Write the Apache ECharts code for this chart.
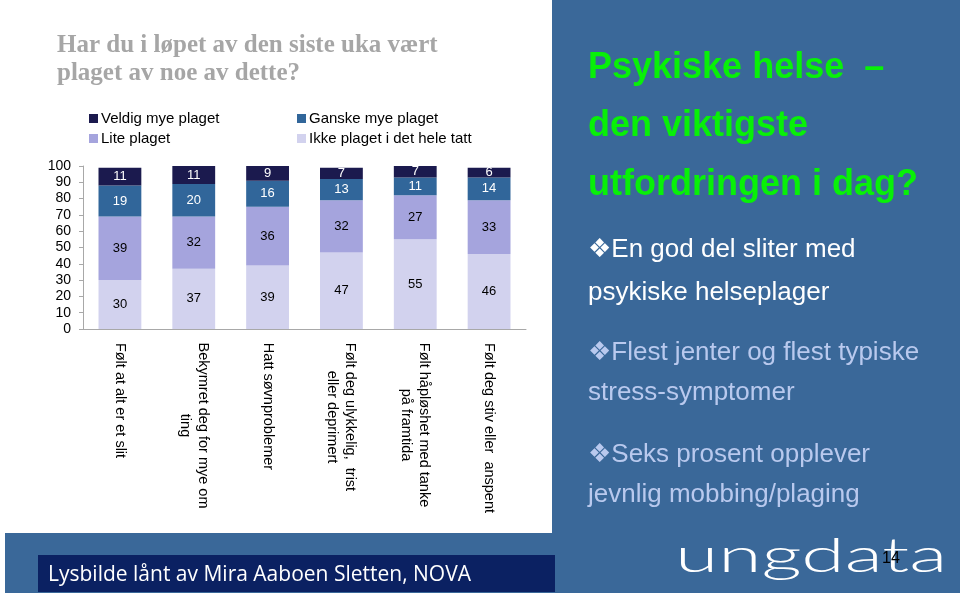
<!DOCTYPE html>
<html><head><meta charset="utf-8">
<script src="https://cdn.jsdelivr.net/npm/echarts@6/dist/echarts.min.js"></script>
<style>html,body{margin:0;padding:0;background:#fff}#c{width:960px;height:600px}</style>
</head><body><div id="c"></div>
<script>
const categories = ['Følt at alt er et slit', 'Bekymret deg for mye om\nting', 'Hatt søvnproblemer', 'Følt deg ulykkelig,  trist\neller deprimert', 'Følt håpløshet med tanke\npå framtida', 'Følt deg stiv eller  anspent'];
const seriesNames = ['Ikke plaget i det hele tatt', 'Lite plaget', 'Ganske mye plaget', 'Veldig mye plaget'];
const ikkePlaget = [30, 37, 39, 47, 55, 46];
const litePlaget = [39, 32, 36, 32, 27, 33];
const ganskeMye = [19, 20, 16, 13, 11, 14];
const veldigMye = [11, 11, 9, 7, 7, 6];
const yMin = 0, yMax = 100, yStep = 10;
const titleLines = ['Har du i løpet av den siste uka vært', 'plaget av noe av dette?'];
const headLines = ['Psykiske helse  –', 'den viktigste', 'utfordringen i dag?'];
const bulletLines = ['❖En god del sliter med', 'psykiske helseplager', '❖Flest jenter og flest typiske', 'stress-symptomer', '❖Seks prosent opplever', 'jevnlig mobbing/plaging'];
const footerText = 'Lysbilde lånt av Mira Aaboen Sletten, NOVA';

const colors = ['#d2d2ee', '#a5a4dd', '#31669a', '#1b1a4e'];
const labelColors = ['#000', '#000', '#fff', '#fff'];
const values = [ikkePlaget, litePlaget, ganskeMye, veldigMye];
const SANS = '"Liberation Sans", Arial, "DejaVu Sans", sans-serif';

const catFontSize = 14.5;
const ctx = document.createElement('canvas').getContext('2d');
ctx.font = catFontSize + 'px "Liberation Sans", Arial, sans-serif';
const rich = {};
categories.forEach((c, i) => {
  const w = Math.max(...c.split('\n').map(s => ctx.measureText(s).width));
  rich['r' + i] = { width: Math.ceil(w) + 1, align: 'center', fontSize: catFontSize, fontFamily: SANS, lineHeight: 18, color: '#000' };
});

const chart = echarts.init(document.getElementById('c'), null, { renderer: 'canvas' });

const bulletColors = ['#ffffff', '#ffffff', '#b9c9ee', '#b9c9ee', '#b9c9ee', '#b9c9ee'];
const bulletY = [250, 293, 353, 393, 455, 495];
const headY = [68, 126, 185];

const graphics = [
  { type: 'rect', shape: { x: 552, y: 0, width: 408, height: 593 }, style: { fill: '#3a6899' }, z: -10 },
  { type: 'rect', shape: { x: 5, y: 533, width: 548, height: 60 }, style: { fill: '#3a6899' }, z: -10 },
  { type: 'rect', shape: { x: 38, y: 555, width: 517, height: 37 }, style: { fill: '#0b2162' }, z: -9 },
  { type: 'text', style: { text: footerText, x: 48, y: 575, font: '21px "Open Sans", "Liberation Sans", sans-serif', fill: '#ffffff', textVerticalAlign: 'middle' } },
];
titleLines.forEach((t, i) => graphics.push({ type: 'text', style: { text: t, x: 57, y: 46 + i * 28, font: 'bold 25px "Liberation Serif", "DejaVu Serif", serif', fill: '#a6a6a6', textVerticalAlign: 'middle' } }));
headLines.forEach((t, i) => graphics.push({ type: 'text', style: { text: t, x: 588, y: headY[i], font: 'bold 36px ' + SANS, fill: '#08f008', textVerticalAlign: 'middle' } }));
bulletLines.forEach((t, i) => graphics.push({ type: 'text', style: { text: t, x: 588, y: bulletY[i], font: '26px ' + SANS, fill: bulletColors[i], textVerticalAlign: 'middle' } }));
graphics.push({ type: 'text', x: 675, y: 0, scaleX: 1.64, style: { text: 'ungdata', x: 0, y: 581, font: '300 48px Lato, "Liberation Sans", sans-serif', fill: '#ffffff', textVerticalAlign: 'bottom' } });
graphics.push({ type: 'text', style: { text: '14', x: 882, y: 559, font: '16px ' + SANS, fill: '#000', textVerticalAlign: 'middle' } });

chart.setOption({
  animation: false,
  backgroundColor: '#ffffff',
  graphic: graphics,
  legend: [
    { orient: 'vertical', left: 84, top: 106, itemWidth: 9, itemHeight: 9, itemGap: 5, icon: 'rect',
      data: ['Veldig mye plaget', 'Lite plaget'], textStyle: { fontSize: 15, fontFamily: SANS, color: '#000', padding: [0, 0, 0, -2], lineHeight: 15 } },
    { orient: 'vertical', left: 292, top: 106, itemWidth: 9, itemHeight: 9, itemGap: 5, icon: 'rect',
      data: ['Ganske mye plaget', 'Ikke plaget i det hele tatt'], textStyle: { fontSize: 15, fontFamily: SANS, color: '#000', padding: [0, 0, 0, -2], lineHeight: 15 } }
  ],
  grid: { left: 83, right: 434, top: 166, bottom: 271, containLabel: false },
  xAxis: {
    type: 'category', data: categories,
    axisLine: { lineStyle: { color: '#a8a8a8', width: 1 } },
    axisTick: { show: false },
    axisLabel: { rotate: -90, interval: 0, margin: 13, formatter: (v, i) => v.split('\n').map(s => '{r' + i + '|' + s + '}').join('\n'), rich: rich }
  },
  yAxis: {
    type: 'value', min: yMin, max: yMax, interval: yStep,
    axisLine: { show: true, lineStyle: { color: '#a8a8a8' } },
    axisTick: { show: true, length: 4, lineStyle: { color: '#a8a8a8' } },
    splitLine: { show: false },
    axisLabel: { fontSize: 14, fontFamily: SANS, color: '#000', margin: 12 }
  },
  series: seriesNames.map((n, k) => ({
    name: n, type: 'bar', stack: 'total', barWidth: '58%',
    data: values[k],
    itemStyle: { color: colors[k] },
    label: { show: true, position: 'inside', fontSize: 13, fontFamily: SANS, color: labelColors[k] }
  }))
});
</script></body></html>
